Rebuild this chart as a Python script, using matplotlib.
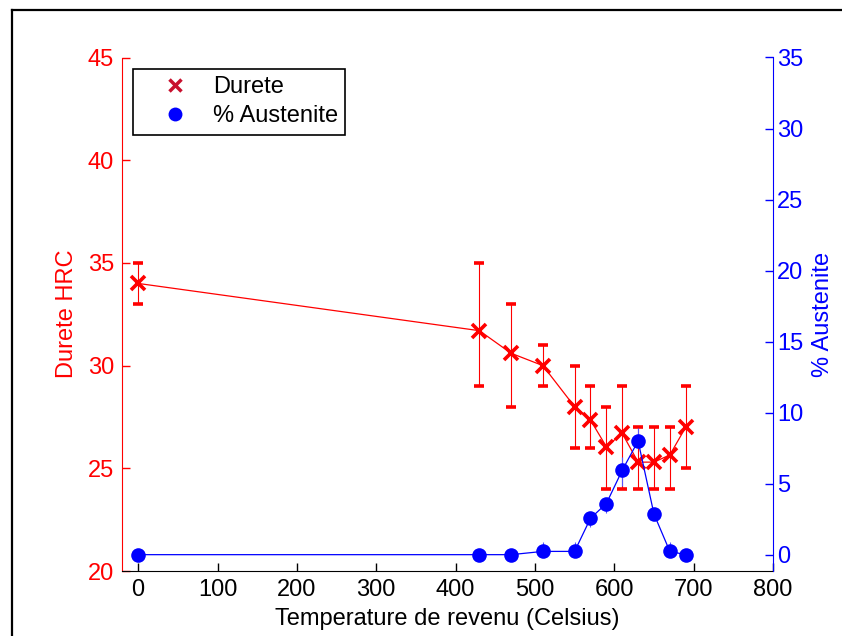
import matplotlib
matplotlib.use("Agg")
import matplotlib.pyplot as plt
from matplotlib.lines import Line2D

plt.rcParams['font.family'] = ['Liberation Sans', 'DejaVu Sans']

# Data
temperature = [0, 430, 470, 510, 550, 570, 590, 610, 630, 650, 670, 690]
durete = [34.0, 31.7, 30.6, 30.0, 28.0, 27.35, 26.05, 26.7, 25.3, 25.3, 25.65, 27.0]
durete_err_low = [1.0, 2.7, 2.6, 1.0, 2.0, 1.35, 2.05, 2.7, 1.3, 1.3, 1.65, 2.0]
durete_err_high = [1.0, 3.3, 2.4, 1.0, 2.0, 1.65, 1.95, 2.3, 1.7, 1.7, 1.35, 2.0]
austenite = [0.0, 0.0, 0.0, 0.23, 0.23, 2.56, 3.6, 5.94, 8.0, 2.86, 0.23, 0.0]
aust_err_low = [0.0, 0.0, 0.0, 0.3, 0.3, 0.58, 0.7, 1.08, 0.4, 0.0, 0.3, 0.0]
aust_err_high = [0.0, 0.0, 0.0, 0.64, 0.64, 0.3, 0.3, 0.94, 0.9, 0.0, 0.64, 0.0]

x_ticks = [0, 100, 200, 300, 400, 500, 600, 700, 800]
left_ticks = [20, 25, 30, 35, 40, 45]
right_ticks = [0, 5, 10, 15, 20, 25, 30, 35]

FS = 17
RED = '#ff0000'
BLUE = '#0000ff'

fig = plt.figure(figsize=(8.42, 6.36), dpi=100)
ax = fig.add_axes([122.3 / 842, 65 / 636, (773 - 122.3) / 842, (571 - 57.5) / 636])
ax2 = ax.twinx()

ax.errorbar(temperature, durete, yerr=[durete_err_low, durete_err_high],
            color=RED, ecolor=RED, elinewidth=0.8, capsize=3.5, capthick=0.7,
            linewidth=0.9, marker='x', markersize=10, markeredgewidth=2.6,
            label='Durete', zorder=3)
ax2.errorbar(temperature, austenite, yerr=[aust_err_low, aust_err_high],
             color=BLUE, ecolor='#5555ff', elinewidth=0.8, capsize=3.5, capthick=0.7,
             linewidth=0.9, marker='o', markersize=10.5, markeredgewidth=0,
             label='% Austenite', zorder=3)

ax.set_xlim(-20, 800)
ax.set_ylim(20, 45)
ax2.set_ylim(-1.15, 35)
ax.set_xticks(x_ticks)
ax.set_yticks(left_ticks)
ax2.set_yticks(right_ticks)

for a in (ax, ax2):
    a.spines['top'].set_visible(False)
ax.spines['right'].set_visible(False)
ax2.spines['left'].set_visible(False)
ax2.spines['bottom'].set_visible(False)
ax.spines['left'].set_color(RED)
ax2.spines['right'].set_color(BLUE)
ax.spines['bottom'].set_color('black')

ax.tick_params(axis='x', direction='in', length=6, width=1, colors='black',
               labelsize=FS, pad=6)
ax.tick_params(axis='y', direction='in', length=6, width=1, colors=RED,
               labelsize=FS, pad=6)
ax2.tick_params(axis='y', direction='in', length=6, width=1, colors=BLUE,
                labelsize=FS, pad=3)

ax.set_xlabel('Temperature de revenu (Celsius)', fontsize=FS, labelpad=5)
ax.set_ylabel('Durete HRC', fontsize=FS, color=RED, labelpad=7)
ax2.set_ylabel('% Austenite', fontsize=FS, color=BLUE, labelpad=6)

h1, l1 = ax.get_legend_handles_labels()
h2, l2 = ax2.get_legend_handles_labels()
leg_handles = [Line2D([], [], color='#c8102e', marker='x', linestyle='none',
                      markersize=9, markeredgewidth=2.5),
               Line2D([], [], color=BLUE, marker='o', linestyle='none',
                      markersize=10, markeredgewidth=0)]
leg = ax2.legend(leg_handles, [l1[0], l2[0]], loc='upper left',
                 bbox_to_anchor=((132.7 - 122.3) / (773 - 122.3), 1 - (69.3 - 57.5) / (571 - 57.5)),
                 fontsize=FS, frameon=True, fancybox=False, framealpha=1,
                 edgecolor='black', borderpad=0.3, handletextpad=0.1,
                 labelspacing=0.3, handlelength=3.0, borderaxespad=0)
leg.get_frame().set_linewidth(1.2)

# outer frame lines (page border)
fig.add_artist(Line2D([12 / 842, 1.0], [1 - 10 / 636, 1 - 10 / 636],
                      transform=fig.transFigure, color='black', linewidth=1.6))
fig.add_artist(Line2D([12 / 842, 12 / 842], [0.0, 1 - 10 / 636],
                      transform=fig.transFigure, color='black', linewidth=1.6))

fig.savefig('out.png', dpi=100)
